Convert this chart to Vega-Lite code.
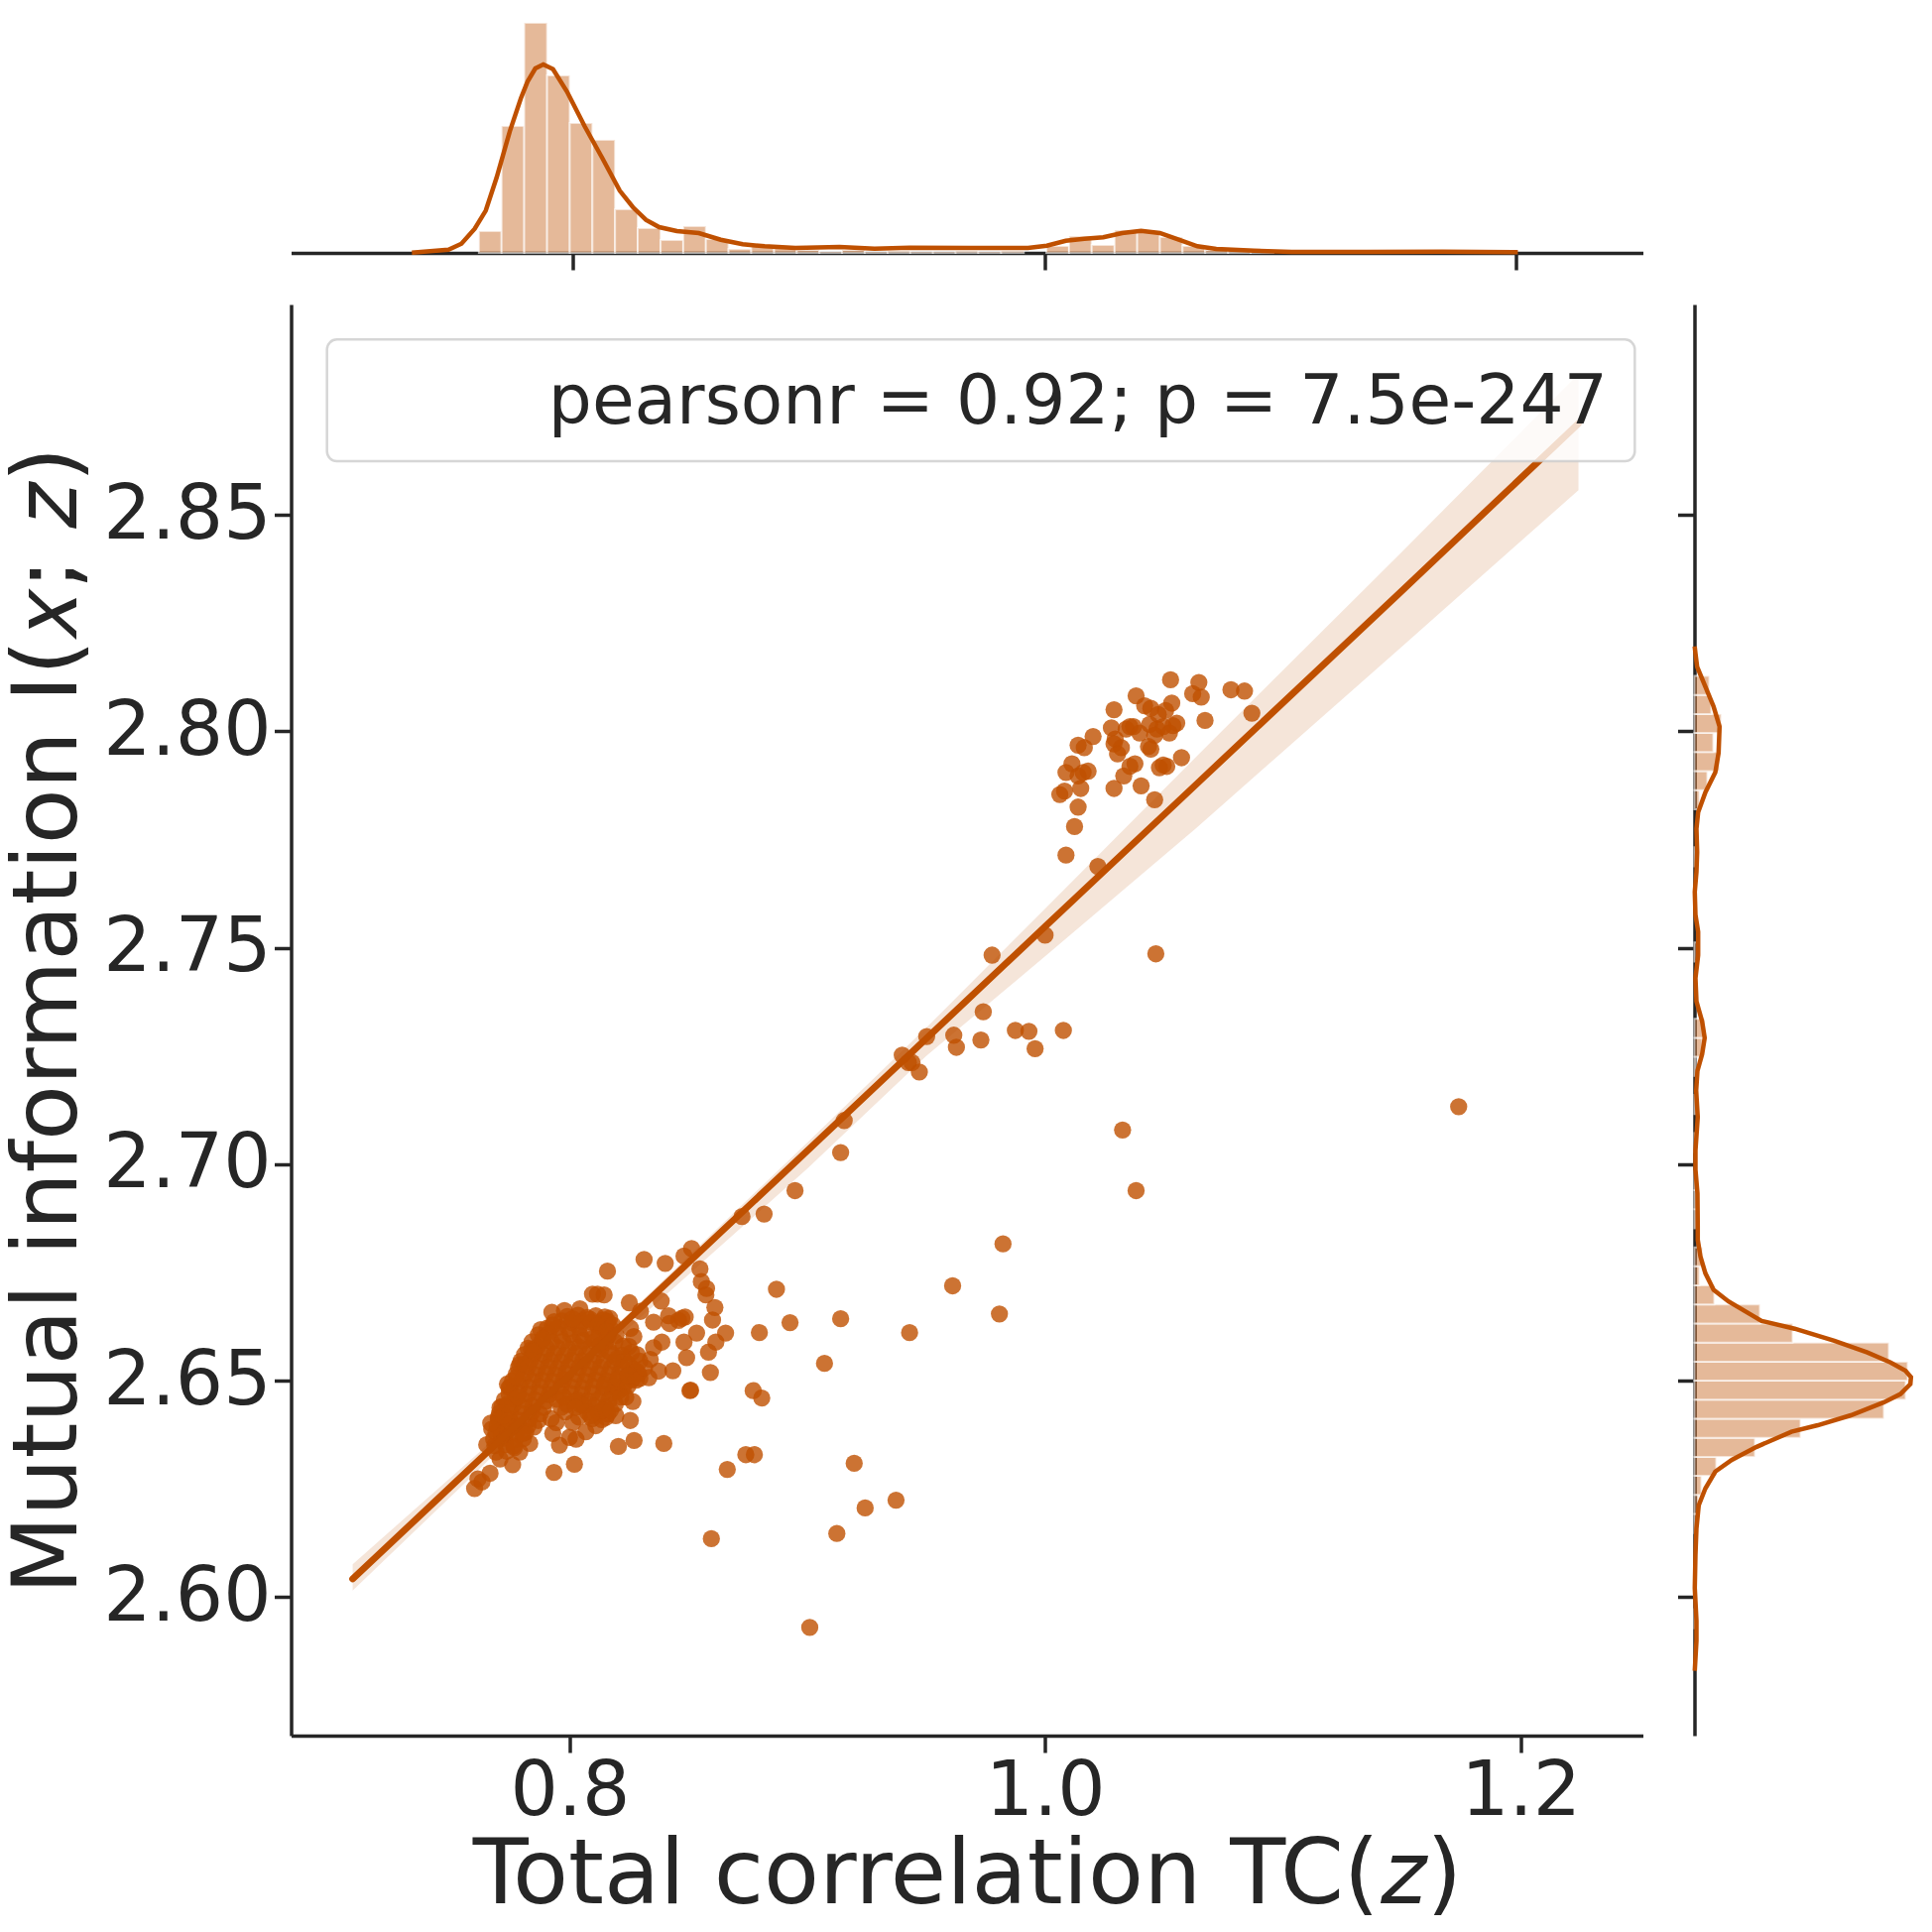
{"$schema":"https://vega.github.io/schema/vega-lite/v6.json","background":"white","padding":{"left":2.5,"top":22,"right":0,"bottom":0},"bounds":"flush","spacing":52,
"config":{"font":"DejaVu Sans","view":{"stroke":null},"axis":{"grid":false,"domainColor":"#262626","domainWidth":3.5,"tickColor":"#262626","tickWidth":3.5,"tickSize":17,"labelColor":"#262626","titleColor":"#262626","labelFont":"DejaVu Sans","titleFont":"DejaVu Sans","titleFontWeight":"normal"}},
"datasets":{
"fit":[{"tc":0.7087,"mi":2.6042,"lo":2.6015,"hi":2.6076},{"tc":0.76,"mi":2.6307,"lo":2.6285,"hi":2.6325},{"tc":0.8,"mi":2.6514,"lo":2.65,"hi":2.6525},{"tc":0.85,"mi":2.6773,"lo":2.6745,"hi":2.6788},{"tc":0.9,"mi":2.7031,"lo":2.699,"hi":2.705},{"tc":0.95,"mi":2.729,"lo":2.725,"hi":2.7315},{"tc":1.0,"mi":2.7549,"lo":2.748,"hi":2.759},{"tc":1.0637,"mi":2.7878,"lo":2.7777,"hi":2.7942},{"tc":1.15,"mi":2.8324,"lo":2.8195,"hi":2.8414},{"tc":1.2244,"mi":2.8711,"lo":2.8557,"hi":2.8825}],
"top_hist":[{"a":0.7603,"b":0.7699,"d":2.2},{"a":0.7699,"b":0.7795,"d":12.8},{"a":0.7795,"b":0.7892,"d":23.2},{"a":0.7892,"b":0.7988,"d":17.9},{"a":0.7988,"b":0.8084,"d":13.1},{"a":0.8084,"b":0.818,"d":11.4},{"a":0.818,"b":0.8276,"d":4.4},{"a":0.8276,"b":0.8373,"d":2.5},{"a":0.8373,"b":0.8469,"d":1.3},{"a":0.8469,"b":0.8565,"d":2.7},{"a":0.8565,"b":0.8661,"d":1.4},{"a":0.8661,"b":0.8757,"d":0.4},{"a":0.8757,"b":0.8854,"d":0.8},{"a":0.8854,"b":0.895,"d":0.5},{"a":0.895,"b":0.9046,"d":0.3},{"a":0.9046,"b":0.9142,"d":0.1},{"a":0.9142,"b":0.9238,"d":0.3},{"a":0.9238,"b":0.9335,"d":0.1},{"a":0.9335,"b":0.9431,"d":0.2},{"a":0.9431,"b":0.9527,"d":0.1},{"a":0.9527,"b":0.9623,"d":0.1},{"a":0.9623,"b":0.9719,"d":0.2},{"a":0.9719,"b":0.9816,"d":0.1},{"a":0.9816,"b":0.9912,"d":0.2},{"a":1.0008,"b":1.0104,"d":0.7},{"a":1.0104,"b":1.02,"d":1.7},{"a":1.02,"b":1.0297,"d":0.8},{"a":1.0297,"b":1.0393,"d":2.3},{"a":1.0393,"b":1.0489,"d":2.2},{"a":1.0489,"b":1.0585,"d":1.6},{"a":1.0585,"b":1.0681,"d":0.7},{"a":1.0681,"b":1.0778,"d":0.3},{"a":1.0778,"b":1.0874,"d":0.3},{"a":1.0874,"b":1.097,"d":0.1},{"a":1.174,"b":1.1836,"d":0.1}],
"top_kde":[{"x":0.7319,"d":0.02},{"x":0.7474,"d":0.33},{"x":0.7529,"d":0.93},{"x":0.7585,"d":2.43},{"x":0.7632,"d":4.27},{"x":0.7678,"d":7.6},{"x":0.7734,"d":12.27},{"x":0.7781,"d":15.6},{"x":0.7809,"d":17.27},{"x":0.7842,"d":18.6},{"x":0.7876,"d":19},{"x":0.7917,"d":18.53},{"x":0.7976,"d":16.27},{"x":0.8051,"d":12.77},{"x":0.8125,"d":9.6},{"x":0.82,"d":6.27},{"x":0.8256,"d":4.6},{"x":0.8311,"d":3.33},{"x":0.8367,"d":2.6},{"x":0.8442,"d":2.2},{"x":0.8535,"d":2},{"x":0.8628,"d":1.33},{"x":0.8721,"d":0.87},{"x":0.8814,"d":0.67},{"x":0.8944,"d":0.5},{"x":0.9131,"d":0.6},{"x":0.928,"d":0.43},{"x":0.9429,"d":0.53},{"x":0.9686,"d":0.5},{"x":0.993,"d":0.5},{"x":1.001,"d":0.73},{"x":1.009,"d":1.23},{"x":1.0169,"d":1.43},{"x":1.0249,"d":1.57},{"x":1.0329,"d":2},{"x":1.0409,"d":2.23},{"x":1.0489,"d":2},{"x":1.0569,"d":1.33},{"x":1.0648,"d":0.67},{"x":1.0728,"d":0.4},{"x":1.0888,"d":0.23},{"x":1.1048,"d":0.1},{"x":1.1367,"d":0.1},{"x":1.1686,"d":0.13},{"x":1.2006,"d":0.07}],
"right_hist":[{"a":2.5928,"b":2.5972,"d":0.1},{"a":2.6148,"b":2.6192,"d":0.3},{"a":2.6192,"b":2.6236,"d":0.4},{"a":2.6236,"b":2.628,"d":0.7},{"a":2.628,"b":2.6324,"d":2.2},{"a":2.6324,"b":2.6368,"d":6.1},{"a":2.6368,"b":2.6412,"d":10.7},{"a":2.6412,"b":2.6456,"d":19.1},{"a":2.6456,"b":2.65,"d":21.3},{"a":2.65,"b":2.6544,"d":21.5},{"a":2.6544,"b":2.6588,"d":19.6},{"a":2.6588,"b":2.6632,"d":9.9},{"a":2.6632,"b":2.6676,"d":6.6},{"a":2.6676,"b":2.672,"d":2.0},{"a":2.672,"b":2.6764,"d":0.5},{"a":2.6764,"b":2.6808,"d":0.8},{"a":2.6852,"b":2.6896,"d":0.2},{"a":2.6896,"b":2.694,"d":0.2},{"a":2.694,"b":2.6984,"d":0.1},{"a":2.7028,"b":2.7072,"d":0.2},{"a":2.7116,"b":2.716,"d":0.2},{"a":2.7204,"b":2.7248,"d":0.1},{"a":2.7248,"b":2.7292,"d":0.8},{"a":2.7292,"b":2.7336,"d":1.0},{"a":2.7468,"b":2.7512,"d":0.3},{"a":2.7688,"b":2.7732,"d":0.3},{"a":2.782,"b":2.7864,"d":0.5},{"a":2.7864,"b":2.7908,"d":1.3},{"a":2.7908,"b":2.7952,"d":2.5},{"a":2.7952,"b":2.7996,"d":1.9},{"a":2.7996,"b":2.804,"d":2.7},{"a":2.804,"b":2.8084,"d":1.7},{"a":2.8084,"b":2.8128,"d":1.5}],
"right_kde":[{"y":2.583,"d":0.03},{"y":2.5899,"d":0.2},{"y":2.5945,"d":0.2},{"y":2.6021,"d":0.03},{"y":2.6098,"d":0.1},{"y":2.6159,"d":0.2},{"y":2.6212,"d":0.43},{"y":2.6251,"d":1.1},{"y":2.629,"d":2.1},{"y":2.6317,"d":3.77},{"y":2.6347,"d":6.27},{"y":2.6382,"d":9.77},{"y":2.6397,"d":12.43},{"y":2.642,"d":15.77},{"y":2.645,"d":19.1},{"y":2.6469,"d":20.77},{"y":2.6492,"d":21.77},{"y":2.6508,"d":21.83},{"y":2.6523,"d":21.27},{"y":2.6542,"d":19.77},{"y":2.6565,"d":17.43},{"y":2.6592,"d":14.1},{"y":2.662,"d":10.1},{"y":2.6638,"d":6.77},{"y":2.6683,"d":3.43},{"y":2.671,"d":1.93},{"y":2.6748,"d":1.1},{"y":2.6787,"d":0.6},{"y":2.6825,"d":0.33},{"y":2.6857,"d":0.33},{"y":2.6933,"d":0.3},{"y":2.6987,"d":0.1},{"y":2.7032,"d":0.1},{"y":2.7109,"d":0.33},{"y":2.717,"d":0.17},{"y":2.7216,"d":0.3},{"y":2.7254,"d":0.77},{"y":2.7292,"d":1.03},{"y":2.733,"d":0.77},{"y":2.7376,"d":0.2},{"y":2.743,"d":0.1},{"y":2.7483,"d":0.37},{"y":2.7537,"d":0.37},{"y":2.7576,"d":0.1},{"y":2.7629,"d":0.03},{"y":2.7675,"d":0.2},{"y":2.7721,"d":0.27},{"y":2.7775,"d":0.2},{"y":2.7813,"d":0.37},{"y":2.7859,"d":1.1},{"y":2.7905,"d":2.1},{"y":2.795,"d":2.43},{"y":2.8011,"d":2.53},{"y":2.8057,"d":1.93},{"y":2.8103,"d":1.1},{"y":2.8149,"d":0.27},{"y":2.818,"d":0.1},{"y":2.8196,"d":0.02}],
"points":[
{"tc":1.0528,"mi":2.8119},{"tc":1.0647,"mi":2.8113},{"tc":1.0782,"mi":2.8096},{"tc":1.0839,"mi":2.8093},{"tc":1.0383,"mi":2.8082},{"tc":1.0621,"mi":2.8087},{"tc":1.0657,"mi":2.8079},{"tc":1.087,"mi":2.8042},{"tc":1.029,"mi":2.805},{"tc":1.0533,"mi":2.8065},{"tc":1.0419,"mi":2.8059},{"tc":1.0445,"mi":2.8053},{"tc":1.0507,"mi":2.8048},{"tc":1.0476,"mi":2.8039},{"tc":1.0673,"mi":2.8025},{"tc":1.0554,"mi":2.8019},{"tc":1.044,"mi":2.8016},{"tc":1.0357,"mi":2.8011},{"tc":1.0341,"mi":2.8005},{"tc":1.0372,"mi":2.8011},{"tc":1.0398,"mi":2.7996},{"tc":1.0279,"mi":2.8008},{"tc":1.0202,"mi":2.7988},{"tc":1.0139,"mi":2.7968},{"tc":1.0165,"mi":2.7962},{"tc":1.0295,"mi":2.7982},{"tc":1.0471,"mi":2.8005},{"tc":1.0497,"mi":2.8011},{"tc":1.0538,"mi":2.8013},{"tc":1.0461,"mi":2.7991},{"tc":1.0523,"mi":2.7996},{"tc":1.0445,"mi":2.7959},{"tc":1.0435,"mi":2.7965},{"tc":1.029,"mi":2.7971},{"tc":1.0321,"mi":2.7962},{"tc":1.0305,"mi":2.7948},{"tc":1.0378,"mi":2.7925},{"tc":1.0357,"mi":2.7919},{"tc":1.0512,"mi":2.7919},{"tc":1.0481,"mi":2.7916},{"tc":1.0497,"mi":2.7922},{"tc":1.0574,"mi":2.7939},{"tc":1.0088,"mi":2.7905},{"tc":1.0113,"mi":2.7925},{"tc":1.0139,"mi":2.7897},{"tc":1.0181,"mi":2.7908},{"tc":1.016,"mi":2.7905},{"tc":1.0331,"mi":2.7897},{"tc":1.029,"mi":2.7868},{"tc":1.0404,"mi":2.7874},{"tc":1.0461,"mi":2.7842},{"tc":1.0082,"mi":2.7862},{"tc":1.0062,"mi":2.7854},{"tc":1.015,"mi":2.7868},{"tc":1.0139,"mi":2.7825},{"tc":1.0124,"mi":2.778},{"tc":1.0088,"mi":2.7714},{"tc":1.0222,"mi":2.7688},
{"tc":0.9777,"mi":2.7483},{"tc":1.0,"mi":2.7529},{"tc":1.0466,"mi":2.7486},{"tc":0.974,"mi":2.7352},{"tc":0.9875,"mi":2.7309},{"tc":0.9932,"mi":2.7307},{"tc":0.9958,"mi":2.7267},{"tc":1.0077,"mi":2.7309},{"tc":0.9616,"mi":2.7298},{"tc":0.9627,"mi":2.727},{"tc":0.973,"mi":2.7287},{"tc":0.9502,"mi":2.7295},{"tc":0.9399,"mi":2.7252},{"tc":0.9425,"mi":2.7235},{"tc":0.944,"mi":2.7235},{"tc":0.9471,"mi":2.7213},{"tc":0.9155,"mi":2.7101},{"tc":0.914,"mi":2.7027},{"tc":0.8948,"mi":2.6939},{"tc":0.8725,"mi":2.6879},{"tc":0.8818,"mi":2.6885},{"tc":1.174,"mi":2.7133},{"tc":1.0326,"mi":2.7079},{"tc":1.0383,"mi":2.6939},{"tc":0.9823,"mi":2.6816},{"tc":0.9611,"mi":2.6719},{"tc":0.887,"mi":2.6711},{"tc":0.914,"mi":2.6643},{"tc":0.8927,"mi":2.6634},{"tc":0.8798,"mi":2.6611},{"tc":0.9808,"mi":2.6654},{"tc":0.943,"mi":2.6611},{"tc":0.9072,"mi":2.654},{"tc":0.8772,"mi":2.6477},{"tc":0.8808,"mi":2.646},{"tc":0.8741,"mi":2.6329},{"tc":0.8777,"mi":2.6329},{"tc":0.8663,"mi":2.6295},{"tc":0.9197,"mi":2.6309},{"tc":0.9373,"mi":2.6224},{"tc":0.9243,"mi":2.6206},{"tc":0.9124,"mi":2.6147},{"tc":0.8596,"mi":2.6135},{"tc":0.901,"mi":2.593},
{"tc":0.8159,"mi":2.6753},{"tc":0.8313,"mi":2.678},{"tc":0.8402,"mi":2.6771},{"tc":0.8481,"mi":2.6788},{"tc":0.8513,"mi":2.6805},{"tc":0.8548,"mi":2.6758},{"tc":0.8554,"mi":2.6729},{"tc":0.8576,"mi":2.6713},{"tc":0.8573,"mi":2.6698},{"tc":0.8611,"mi":2.6669},{"tc":0.8601,"mi":2.664},{"tc":0.8656,"mi":2.661},{"tc":0.8615,"mi":2.6589},{"tc":0.8584,"mi":2.6566},{"tc":0.8592,"mi":2.6519},{"tc":0.8506,"mi":2.6477},{"tc":0.8509,"mi":2.6478},{"tc":0.8481,"mi":2.6589},{"tc":0.8492,"mi":2.6553},{"tc":0.8434,"mi":2.6523},{"tc":0.8534,"mi":2.661},{"tc":0.8472,"mi":2.6644},{"tc":0.8486,"mi":2.6647},{"tc":0.8458,"mi":2.6639},{"tc":0.842,"mi":2.6632},{"tc":0.8416,"mi":2.665},{"tc":0.8353,"mi":2.6635},{"tc":0.8385,"mi":2.6684},{"tc":0.8251,"mi":2.668},{"tc":0.8298,"mi":2.666},{"tc":0.8388,"mi":2.6589},{"tc":0.8353,"mi":2.6576},{"tc":0.8339,"mi":2.6549},{"tc":0.8374,"mi":2.6522},{"tc":0.8333,"mi":2.6507},{"tc":0.8263,"mi":2.6503},{"tc":0.827,"mi":2.6602},{"tc":0.8249,"mi":2.6579},{"tc":0.8284,"mi":2.656},{"tc":0.8256,"mi":2.6621},{"tc":0.8266,"mi":2.6452},{"tc":0.8255,"mi":2.6408},{"tc":0.8271,"mi":2.6362},{"tc":0.8205,"mi":2.6348},{"tc":0.8396,"mi":2.6355},{"tc":0.8201,"mi":2.648},{"tc":0.8194,"mi":2.6419},{"tc":0.802,"mi":2.6307},{"tc":0.7934,"mi":2.6288},{"tc":0.8096,"mi":2.67},{"tc":0.8117,"mi":2.67},{"tc":0.8145,"mi":2.6698},{"tc":0.7925,"mi":2.6658},{"tc":0.7978,"mi":2.6662},{"tc":0.8043,"mi":2.6666},{"tc":0.7878,"mi":2.6618},{"tc":0.7839,"mi":2.6572},{"tc":0.779,"mi":2.6537},{"tc":0.7745,"mi":2.6484},{"tc":0.7707,"mi":2.6438},{"tc":0.77,"mi":2.6415},{"tc":0.7651,"mi":2.6352},{"tc":0.7665,"mi":2.6286},{"tc":0.7631,"mi":2.6266},{"tc":0.7614,"mi":2.6273},{"tc":0.76,"mi":2.6251},{"tc":0.776,"mi":2.6306},{"tc":0.7707,"mi":2.6319},{"tc":0.7832,"mi":2.6355},{"tc":0.779,"mi":2.6335},{"tc":0.7929,"mi":2.6378},{"tc":0.7957,"mi":2.6351},{"tc":0.7999,"mi":2.6369},{"tc":0.8027,"mi":2.6365},{"tc":0.8068,"mi":2.6382},{"tc":0.811,"mi":2.6396},{"tc":0.8013,"mi":2.6403},{"tc":0.7943,"mi":2.6403},{"tc":0.7964,"mi":2.6438},{"tc":0.8152,"mi":2.6415},
{"tc":0.799,"mi":2.6648},{"tc":0.8035,"mi":2.6651},{"tc":0.8072,"mi":2.6646},{"tc":0.811,"mi":2.665},{"tc":0.8148,"mi":2.6647},{"tc":0.8168,"mi":2.6644},
{"tc":0.7935,"mi":2.6636},{"tc":0.7968,"mi":2.6638},{"tc":0.801,"mi":2.6634},{"tc":0.8052,"mi":2.6637},{"tc":0.8092,"mi":2.6635},{"tc":0.8125,"mi":2.6633},{"tc":0.816,"mi":2.6637},
{"tc":0.7905,"mi":2.6621},{"tc":0.795,"mi":2.6623},{"tc":0.7995,"mi":2.662},{"tc":0.804,"mi":2.6622},{"tc":0.807,"mi":2.6619},{"tc":0.8135,"mi":2.6623},{"tc":0.8172,"mi":2.662},
{"tc":0.7868,"mi":2.6606},{"tc":0.7912,"mi":2.6608},{"tc":0.7958,"mi":2.6605},{"tc":0.8003,"mi":2.6607},{"tc":0.8045,"mi":2.6604},{"tc":0.8125,"mi":2.6607},{"tc":0.8162,"mi":2.6605},
{"tc":0.7842,"mi":2.659},{"tc":0.7885,"mi":2.6592},{"tc":0.7925,"mi":2.6589},{"tc":0.7972,"mi":2.6591},{"tc":0.8018,"mi":2.6588},{"tc":0.806,"mi":2.6592},{"tc":0.8105,"mi":2.659},{"tc":0.815,"mi":2.6588},
{"tc":0.7825,"mi":2.6575},{"tc":0.7862,"mi":2.6577},{"tc":0.7905,"mi":2.6574},{"tc":0.795,"mi":2.6576},{"tc":0.7995,"mi":2.6573},{"tc":0.804,"mi":2.6577},{"tc":0.8085,"mi":2.6575},{"tc":0.813,"mi":2.6573},
{"tc":0.781,"mi":2.656},{"tc":0.785,"mi":2.6562},{"tc":0.7895,"mi":2.6559},{"tc":0.7935,"mi":2.6561},{"tc":0.798,"mi":2.6558},{"tc":0.8025,"mi":2.6562},{"tc":0.807,"mi":2.656},{"tc":0.8115,"mi":2.6558},{"tc":0.8175,"mi":2.6561},{"tc":0.822,"mi":2.6559},
{"tc":0.7795,"mi":2.6545},{"tc":0.7835,"mi":2.6547},{"tc":0.788,"mi":2.6544},{"tc":0.792,"mi":2.6546},{"tc":0.7965,"mi":2.6543},{"tc":0.801,"mi":2.6547},{"tc":0.8055,"mi":2.6545},{"tc":0.81,"mi":2.6543},{"tc":0.8145,"mi":2.6546},{"tc":0.819,"mi":2.6544},{"tc":0.823,"mi":2.6546},
{"tc":0.7785,"mi":2.653},{"tc":0.7825,"mi":2.6532},{"tc":0.7865,"mi":2.6529},{"tc":0.791,"mi":2.6531},{"tc":0.795,"mi":2.6528},{"tc":0.7995,"mi":2.6532},{"tc":0.804,"mi":2.653},{"tc":0.8085,"mi":2.6528},{"tc":0.813,"mi":2.6531},{"tc":0.8175,"mi":2.6529},{"tc":0.822,"mi":2.6531},{"tc":0.8265,"mi":2.6528},
{"tc":0.7775,"mi":2.6515},{"tc":0.7815,"mi":2.6517},{"tc":0.7855,"mi":2.6514},{"tc":0.79,"mi":2.6516},{"tc":0.794,"mi":2.6513},{"tc":0.7985,"mi":2.6517},{"tc":0.803,"mi":2.6515},{"tc":0.8075,"mi":2.6513},{"tc":0.812,"mi":2.6516},{"tc":0.8165,"mi":2.6514},{"tc":0.821,"mi":2.6516},{"tc":0.825,"mi":2.6513},{"tc":0.829,"mi":2.6516},
{"tc":0.776,"mi":2.65},{"tc":0.78,"mi":2.6502},{"tc":0.7845,"mi":2.6499},{"tc":0.7885,"mi":2.6501},{"tc":0.793,"mi":2.6498},{"tc":0.7975,"mi":2.6502},{"tc":0.802,"mi":2.65},{"tc":0.8065,"mi":2.6498},{"tc":0.811,"mi":2.6501},{"tc":0.8155,"mi":2.6499},{"tc":0.82,"mi":2.6501},{"tc":0.824,"mi":2.6498},{"tc":0.828,"mi":2.6501},
{"tc":0.775,"mi":2.6485},{"tc":0.779,"mi":2.6487},{"tc":0.783,"mi":2.6484},{"tc":0.7875,"mi":2.6486},{"tc":0.792,"mi":2.6483},{"tc":0.7965,"mi":2.6487},{"tc":0.801,"mi":2.6485},{"tc":0.8055,"mi":2.6483},{"tc":0.81,"mi":2.6486},{"tc":0.8145,"mi":2.6484},{"tc":0.819,"mi":2.6486},{"tc":0.8225,"mi":2.6483},
{"tc":0.7745,"mi":2.647},{"tc":0.7785,"mi":2.6472},{"tc":0.7825,"mi":2.6469},{"tc":0.787,"mi":2.6471},{"tc":0.7915,"mi":2.6468},{"tc":0.7955,"mi":2.6472},{"tc":0.8005,"mi":2.647},{"tc":0.805,"mi":2.6468},{"tc":0.8095,"mi":2.6471},{"tc":0.814,"mi":2.6469},{"tc":0.818,"mi":2.6471},
{"tc":0.7725,"mi":2.6455},{"tc":0.777,"mi":2.6457},{"tc":0.781,"mi":2.6454},{"tc":0.7855,"mi":2.6456},{"tc":0.79,"mi":2.6453},{"tc":0.7945,"mi":2.6457},{"tc":0.8035,"mi":2.6455},{"tc":0.808,"mi":2.6453},{"tc":0.812,"mi":2.6456},{"tc":0.8165,"mi":2.6454},
{"tc":0.7715,"mi":2.644},{"tc":0.776,"mi":2.6442},{"tc":0.78,"mi":2.6439},{"tc":0.7845,"mi":2.6441},{"tc":0.789,"mi":2.6438},{"tc":0.806,"mi":2.6442},{"tc":0.8105,"mi":2.644},{"tc":0.815,"mi":2.6438},
{"tc":0.7705,"mi":2.6425},{"tc":0.775,"mi":2.6427},{"tc":0.7795,"mi":2.6424},{"tc":0.784,"mi":2.6426},{"tc":0.7875,"mi":2.6423},{"tc":0.8075,"mi":2.6427},{"tc":0.812,"mi":2.6425},{"tc":0.816,"mi":2.6423},
{"tc":0.77,"mi":2.641},{"tc":0.7745,"mi":2.6412},{"tc":0.7785,"mi":2.6409},{"tc":0.783,"mi":2.6411},{"tc":0.7868,"mi":2.6408},{"tc":0.8095,"mi":2.6412},{"tc":0.8135,"mi":2.641},
{"tc":0.7695,"mi":2.6395},{"tc":0.774,"mi":2.6397},{"tc":0.778,"mi":2.6394},{"tc":0.7825,"mi":2.6396},{"tc":0.785,"mi":2.6393},
{"tc":0.769,"mi":2.638},{"tc":0.7735,"mi":2.6382},{"tc":0.7775,"mi":2.6379},{"tc":0.7815,"mi":2.6381},
{"tc":0.768,"mi":2.6365},{"tc":0.7725,"mi":2.6367},{"tc":0.777,"mi":2.6364},{"tc":0.7805,"mi":2.6366},
{"tc":0.7685,"mi":2.635},{"tc":0.773,"mi":2.6352},{"tc":0.7765,"mi":2.6349},{"tc":0.769,"mi":2.6335},{"tc":0.7735,"mi":2.6337},
{"tc":0.8012,"mi":2.6643},{"tc":0.8085,"mi":2.6642},{"tc":0.8142,"mi":2.664},{"tc":0.8118,"mi":2.6627},{"tc":0.8182,"mi":2.6628},{"tc":0.8155,"mi":2.6614},{"tc":0.8098,"mi":2.6598},{"tc":0.8128,"mi":2.6582},{"tc":0.8168,"mi":2.6568},{"tc":0.8202,"mi":2.6552},{"tc":0.8248,"mi":2.6538},{"tc":0.8282,"mi":2.6522},{"tc":0.8148,"mi":2.6492},{"tc":0.8205,"mi":2.6476},{"tc":0.8236,"mi":2.6462},{"tc":0.8192,"mi":2.6446},{"tc":0.8138,"mi":2.6432},{"tc":0.8088,"mi":2.6419},{"tc":0.7982,"mi":2.6428},{"tc":0.7922,"mi":2.6412},{"tc":0.8038,"mi":2.6416},{"tc":0.7768,"mi":2.6345},{"tc":0.7712,"mi":2.6374},{"tc":0.7672,"mi":2.6388},{"tc":0.7668,"mi":2.6402},{"tc":0.7802,"mi":2.6378},{"tc":0.7755,"mi":2.6402},{"tc":0.7722,"mi":2.6418},{"tc":0.7738,"mi":2.6445},{"tc":0.7782,"mi":2.6462},{"tc":0.7738,"mi":2.6492},{"tc":0.7778,"mi":2.6508},{"tc":0.7812,"mi":2.6538},{"tc":0.7848,"mi":2.6568},{"tc":0.7888,"mi":2.6598},{"tc":0.7928,"mi":2.6628},
{"tc":0.8045,"mi":2.6445},{"tc":0.8015,"mi":2.6452},{"tc":0.799,"mi":2.6445},{"tc":0.7975,"mi":2.6462},{"tc":0.8025,"mi":2.6438},{"tc":0.8172,"mi":2.6432},{"tc":0.8205,"mi":2.6505},{"tc":0.8245,"mi":2.6488},{"tc":0.8215,"mi":2.6462},{"tc":0.8245,"mi":2.6512},{"tc":0.8295,"mi":2.6505},{"tc":0.8315,"mi":2.653},{"tc":0.8295,"mi":2.6545},{"tc":0.826,"mi":2.6565},{"tc":0.8225,"mi":2.658},{"tc":0.819,"mi":2.659},{"tc":0.8195,"mi":2.6605}
]},
"vconcat":[
{"width":1363,"height":233,
"layer":[
{"data":{"name":"top_hist"},"mark":{"type":"bar","orient":"vertical","fill":"#bf5000","fillOpacity":0.4,"stroke":"white","strokeOpacity":0.6,"strokeWidth":2},"encoding":{"x":{"field":"a","type":"quantitative","scale":{"domain":[0.6828,1.2515],"nice":false,"zero":false},"axis":{"values":[0.8,1.0,1.2],"labels":false,"title":null}},"x2":{"field":"b"},"y":{"field":"d","type":"quantitative","scale":{"domain":[0,23.3],"nice":false},"axis":null}}},
{"data":{"name":"top_kde"},"mark":{"type":"line","color":"#bf5000","strokeWidth":4.5},"encoding":{"x":{"field":"x","type":"quantitative"},"y":{"field":"d","type":"quantitative"}}}
]},
{"bounds":"flush","spacing":52,"hconcat":[
{"width":1363,"height":1443,
"layer":[
{"data":{"name":"points"},"mark":{"type":"circle","color":"#bf5000","opacity":0.8,"size":300},"encoding":{"x":{"field":"tc","type":"quantitative","scale":{"domain":[0.6828,1.2515],"nice":false,"zero":false},"axis":{"values":[0.8,1.0,1.2],"format":".1f","labelFontSize":76,"labelPadding":2,"title":"Total correlation TC(𝑧)","titleFontSize":91.6,"titlePadding":2}},"y":{"field":"mi","type":"quantitative","scale":{"domain":[2.568,2.8986],"nice":false,"zero":false},"axis":{"values":[2.6,2.65,2.7,2.75,2.8,2.85],"format":".2f","labelFontSize":76,"labelPadding":3.5,"title":"Mutual information I(𝑥; 𝑧)","titleFontSize":91.6,"titlePadding":8.5}}}},
{"data":{"name":"fit"},"mark":{"type":"area","color":"#bf5000","opacity":0.15},"encoding":{"x":{"field":"tc","type":"quantitative"},"y":{"field":"lo","type":"quantitative"},"y2":{"field":"hi"}}},
{"data":{"name":"fit"},"mark":{"type":"line","color":"#bf5000","strokeWidth":6.8,"strokeCap":"round"},"encoding":{"x":{"field":"tc","type":"quantitative"},"y":{"field":"mi","type":"quantitative"}}},
{"data":{"values":[{"x1":0.6979,"x2":1.2481,"y1":2.8905,"y2":2.8624,"tx":1.2366,"ty":2.876,"label":"pearsonr = 0.92; p = 7.5e-247"}]},"layer":[
{"mark":{"type":"rect","fill":"white","fillOpacity":0.8,"stroke":"#cccccc","strokeOpacity":0.8,"strokeWidth":2.5,"cornerRadius":10},"encoding":{"x":{"field":"x1","type":"quantitative"},"x2":{"field":"x2"},"y":{"field":"y1","type":"quantitative"},"y2":{"field":"y2"}}},
{"mark":{"type":"text","align":"right","baseline":"middle","fontSize":69.4,"color":"#262626"},"encoding":{"x":{"field":"tx","type":"quantitative"},"y":{"field":"ty","type":"quantitative"},"text":{"field":"label"}}}
]}
]},
{"width":221,"height":1443,
"layer":[
{"data":{"name":"right_hist"},"mark":{"type":"bar","orient":"horizontal","fill":"#bf5000","fillOpacity":0.4,"stroke":"white","strokeOpacity":0.6,"strokeWidth":2},"encoding":{"y":{"field":"a","type":"quantitative","scale":{"domain":[2.568,2.8986],"nice":false,"zero":false,"padding":0},"axis":{"values":[2.6,2.65,2.7,2.75,2.8,2.85],"labels":false,"title":null}},"y2":{"field":"b"},"x":{"field":"d","type":"quantitative","scale":{"domain":[0,22.1],"nice":false},"axis":null}}},
{"data":{"name":"right_kde"},"mark":{"type":"line","color":"#bf5000","strokeWidth":4.5},"encoding":{"x":{"field":"d","type":"quantitative"},"y":{"field":"y","type":"quantitative","scale":{"domain":[2.568,2.8986],"nice":false,"zero":false,"padding":0}},"order":{"field":"y"}}}
]}
]}
]}
